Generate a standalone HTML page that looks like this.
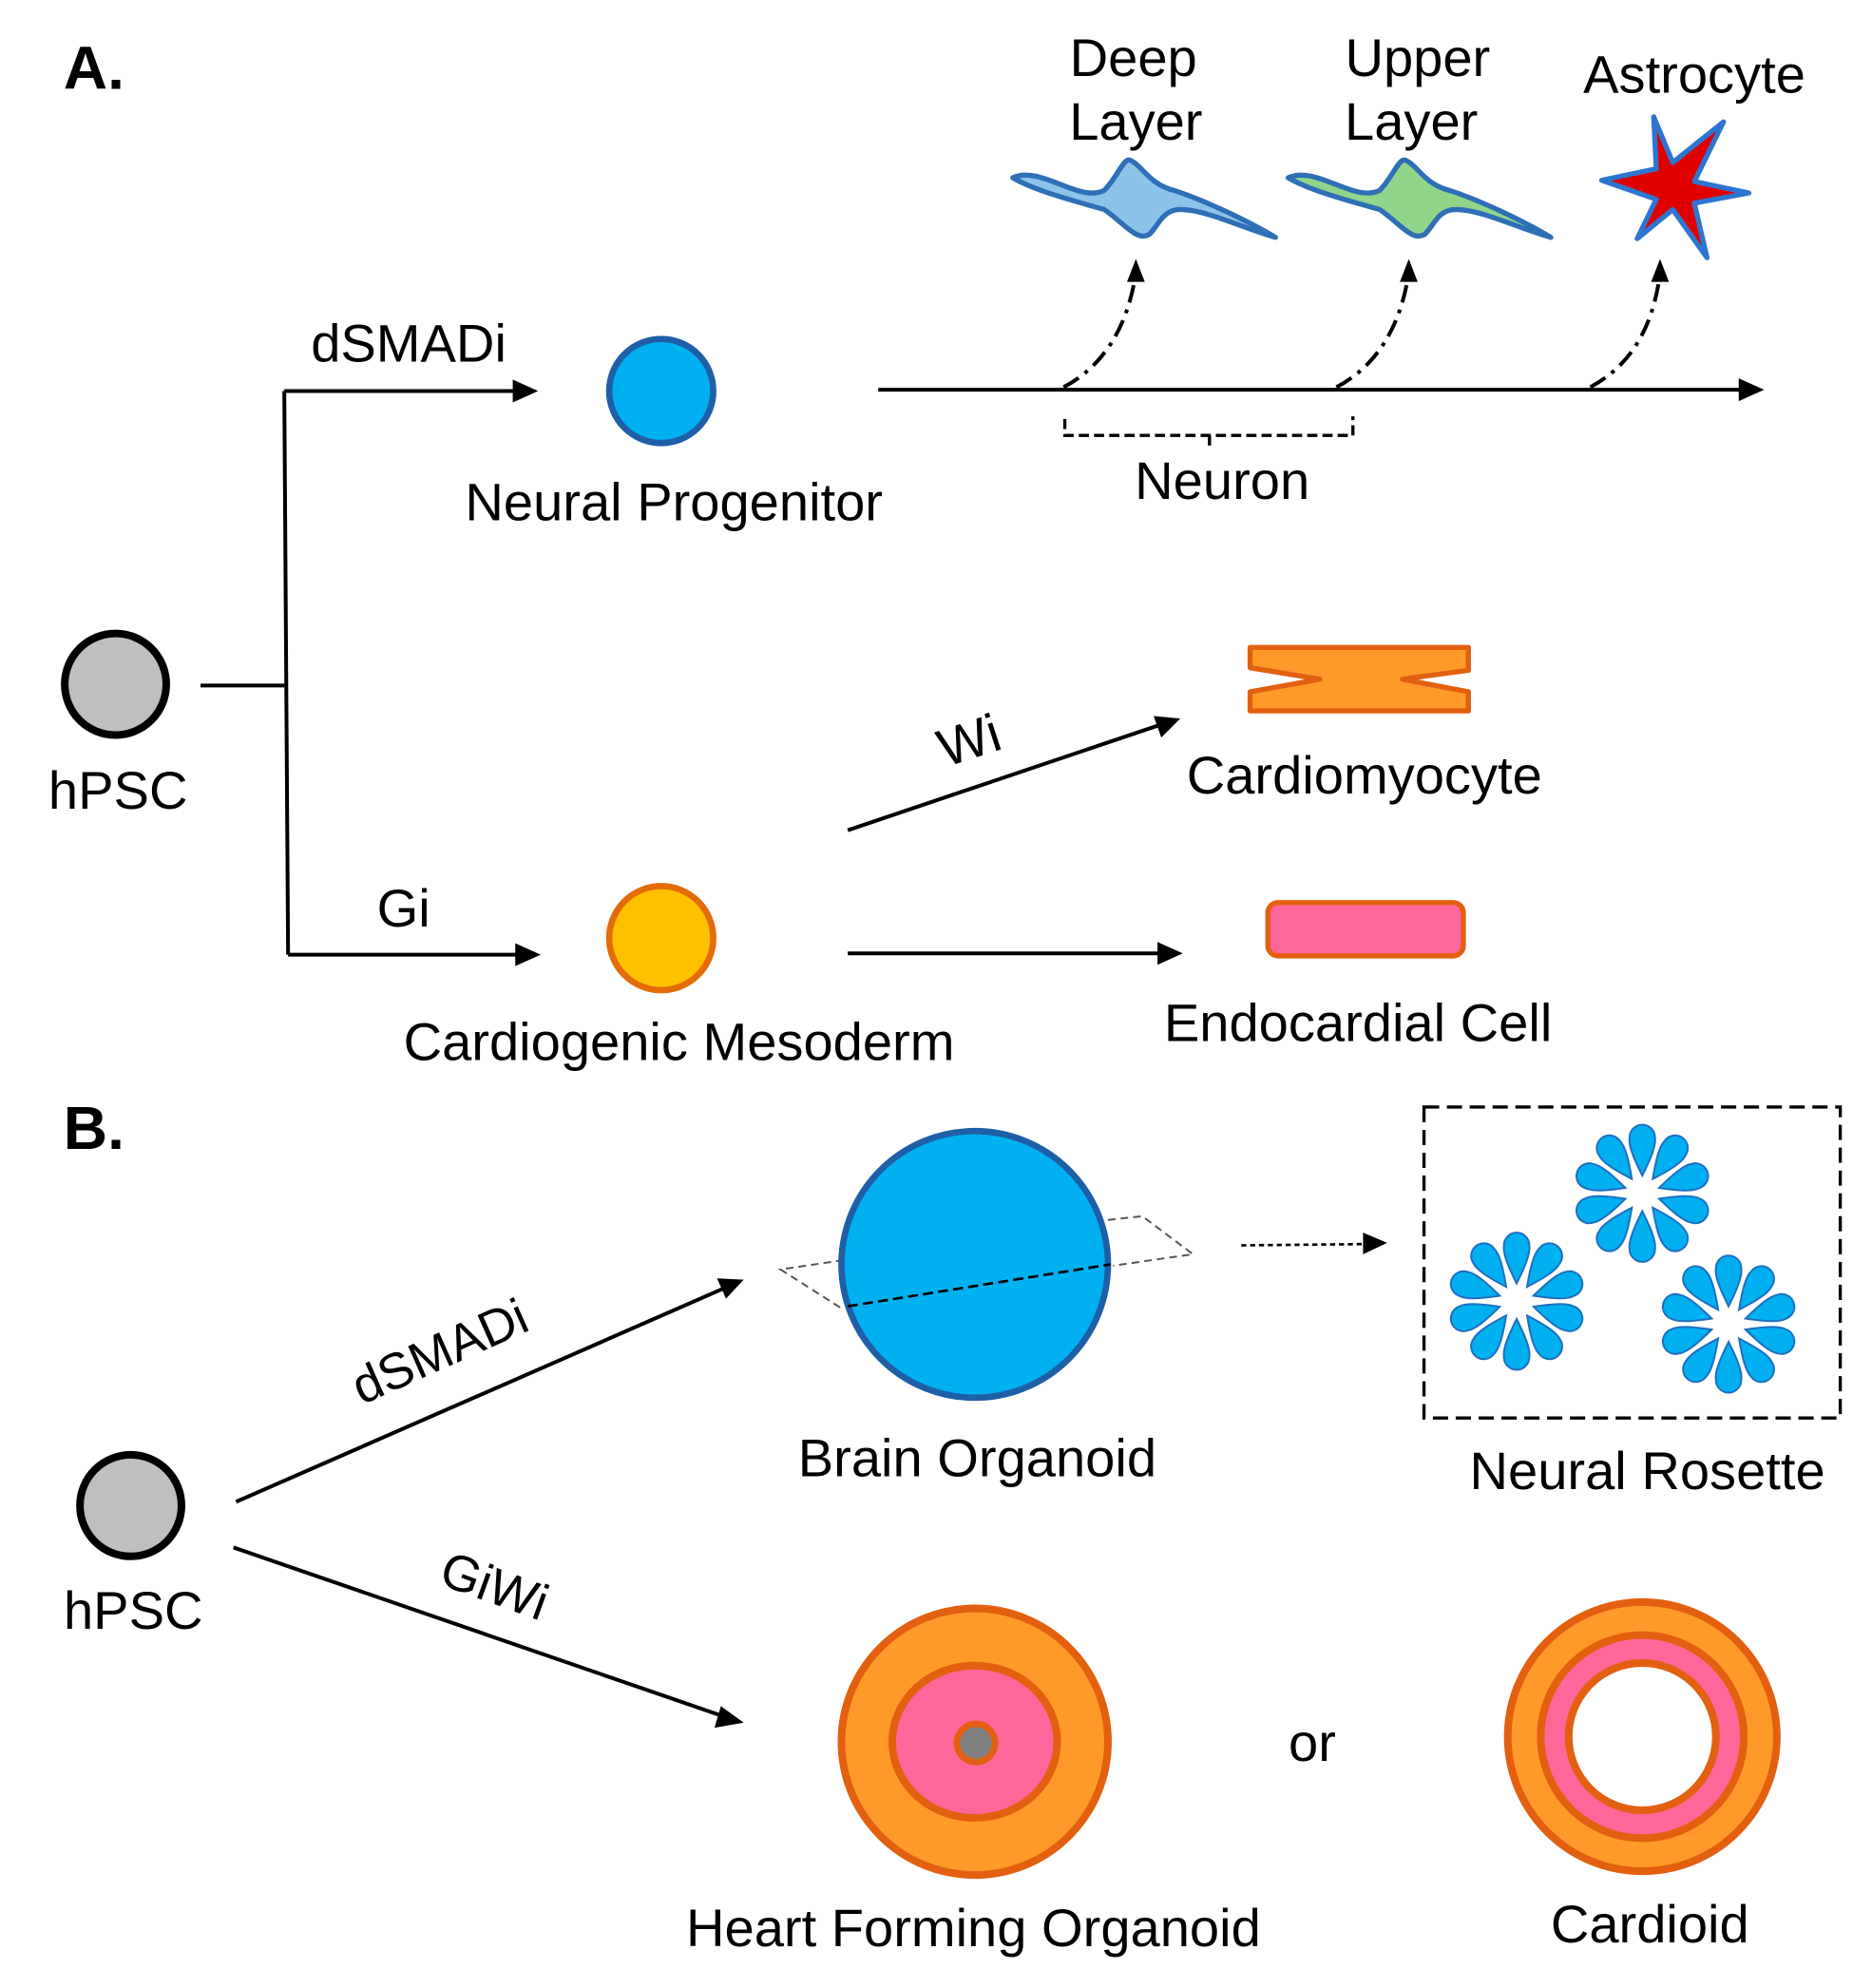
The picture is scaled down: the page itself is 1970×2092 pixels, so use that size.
<!DOCTYPE html>
<html><head><meta charset="utf-8"><style>
html,body{margin:0;padding:0;background:#fff;}
svg{display:block;}
text{font-family:"Liberation Sans",Arial,sans-serif;fill:#000;}
</style></head><body>
<svg width="1970" height="2092" viewBox="0 0 1475 1566" preserveAspectRatio="none" xmlns="http://www.w3.org/2000/svg">
<defs>
<g id="petal"><path d="M0,-14 C-7,-28 -11,-38 -10,-44 A10,10 0 0 1 10,-44 C11,-38 7,-28 0,-14 Z" fill="#00B0F0" stroke="#1F6FC0" stroke-width="1.5"/></g>
<g id="ros">
<use href="#petal"/><use href="#petal" transform="rotate(36)"/><use href="#petal" transform="rotate(72)"/><use href="#petal" transform="rotate(108)"/><use href="#petal" transform="rotate(144)"/><use href="#petal" transform="rotate(180)"/><use href="#petal" transform="rotate(216)"/><use href="#petal" transform="rotate(252)"/><use href="#petal" transform="rotate(288)"/><use href="#petal" transform="rotate(324)"/>
</g>
</defs>

<!-- A -->
<text x="50" y="70" font-size="48" font-weight="bold">A.</text>
<text x="893" y="60" font-size="42" text-anchor="middle">Deep</text>
<text x="895" y="110" font-size="42" text-anchor="middle">Layer</text>
<text x="1117" y="60" font-size="42" text-anchor="middle">Upper</text>
<text x="1112" y="110" font-size="42" text-anchor="middle">Layer</text>
<text x="1335" y="73" font-size="42" text-anchor="middle">Astrocyte</text>

<path d="M798,140 C820,130 850,160 870,150 C880,140 885,125 890,126 C900,130 905,145 925,150 C950,158 985,175 1005,187 C980,180 950,165 930,165 C915,165 912,180 905,185 C895,190 885,175 870,165 C845,158 815,150 798,140 Z" fill="#8DC3E8" stroke="#2E6FB6" stroke-width="4" stroke-linejoin="round"/>
<g transform="translate(217,0)"><path d="M798,140 C820,130 850,160 870,150 C880,140 885,125 890,126 C900,130 905,145 925,150 C950,158 985,175 1005,187 C980,180 950,165 930,165 C915,165 912,180 905,185 C895,190 885,175 870,165 C845,158 815,150 798,140 Z" fill="#92D48A" stroke="#2E6FB6" stroke-width="4" stroke-linejoin="round"/></g>
<path d="M1303,92 L1318,128 L1358,96 L1335,143 L1378,152 L1335,160 L1345,203 L1318,165 L1290,188 L1305,157 L1262,142 L1305,133 Z" fill="#E00000" stroke="#2E75D0" stroke-width="4" stroke-linejoin="round"/>

<g fill="none" stroke="#000" stroke-width="3" stroke-dasharray="14,6,3,6">
<path d="M838,305 Q885,280 895,215"/>
<path d="M1053,305 Q1100,280 1110,215"/>
<path d="M1253,305 Q1300,280 1308,215"/>
</g>
<path d="M895,204 l-7,18 l14,0 Z"/>
<path d="M1110,204 l-7,18 l14,0 Z"/>
<path d="M1308,204 l-7,18 l14,0 Z"/>

<line x1="692" y1="307" x2="1372" y2="307" stroke="#000" stroke-width="3"/>
<path d="M1390,307 L1370,298 L1370,316 Z"/>
<path d="M839,330 L839,343 L1066,343 L1066,328 M953,343 L953,355" fill="none" stroke="#000" stroke-width="2.5" stroke-dasharray="8,4"/>
<text x="963" y="393" font-size="42" text-anchor="middle">Neuron</text>

<circle cx="521" cy="308" r="41" fill="#00B0F0" stroke="#1F5FA8" stroke-width="5"/>
<text x="531" y="410" font-size="42" text-anchor="middle">Neural Progenitor</text>
<text x="322" y="285" font-size="42" text-anchor="middle">dSMADi</text>

<path d="M158,540 L224,540 M224,308 L227,752" fill="none" stroke="#000" stroke-width="3"/>
<line x1="224" y1="308" x2="408" y2="308" stroke="#000" stroke-width="3"/>
<path d="M424,308 L404,299 L404,317 Z"/>
<line x1="227" y1="752" x2="410" y2="752" stroke="#000" stroke-width="3"/>
<path d="M426,752 L406,743 L406,761 Z"/>

<circle cx="91" cy="539" r="40" fill="#BFBFBF" stroke="#000" stroke-width="6"/>
<text x="93" y="637" font-size="42" text-anchor="middle">hPSC</text>

<line x1="668" y1="654" x2="914" y2="571" stroke="#000" stroke-width="3"/>
<path d="M930,566 L909,564 L915,581 Z"/>
<text x="0" y="0" font-size="42" text-anchor="middle" transform="translate(768,597) rotate(-18)">Wi</text>

<path d="M985,510 L1157,510 L1157,528 L1105,535 L1157,545 L1157,560 L985,560 L985,545 L1040,535 L985,526 Z" fill="#FF9A2A" stroke="#E36010" stroke-width="4" stroke-linejoin="round"/>
<text x="1075" y="625" font-size="42" text-anchor="middle">Cardiomyocyte</text>

<text x="318" y="730" font-size="42" text-anchor="middle">Gi</text>
<circle cx="521" cy="739" r="41" fill="#FFC000" stroke="#E36C09" stroke-width="5"/>
<text x="535" y="835" font-size="42" text-anchor="middle">Cardiogenic Mesoderm</text>

<line x1="668" y1="751" x2="914" y2="751" stroke="#000" stroke-width="3"/>
<path d="M932,751 L912,742 L912,760 Z"/>
<rect x="999" y="711" width="154" height="42" rx="8" fill="#FF6699" stroke="#E36010" stroke-width="4"/>
<text x="1070" y="820" font-size="42" text-anchor="middle">Endocardial Cell</text>

<!-- B -->
<text x="50" y="905" font-size="48" font-weight="bold">B.</text>

<circle cx="768" cy="996" r="105" fill="#00B0F0" stroke="#1F5FA8" stroke-width="5"/>
<path d="M662,1030 L615,1000 L662,993 M873,961 L900,958 L940,988 L877,997" fill="none" stroke="#555" stroke-width="1.5" stroke-dasharray="6,4"/>
<line x1="668" y1="1029" x2="875" y2="996" stroke="#000" stroke-width="2" stroke-dasharray="8,4"/>
<text x="770" y="1163" font-size="42" text-anchor="middle">Brain Organoid</text>

<line x1="978" y1="981" x2="1076" y2="980" stroke="#000" stroke-width="2" stroke-dasharray="4,3"/>
<path d="M1093,979 L1074,971 L1074,988 Z"/>
<rect x="1122" y="872" width="328" height="245" fill="none" stroke="#000" stroke-width="2.5" stroke-dasharray="12,6"/>
<use href="#ros" transform="translate(1195,1025)"/>
<use href="#ros" transform="translate(1294,940)"/>
<use href="#ros" transform="translate(1362,1043)"/>
<text x="1298" y="1173" font-size="42" text-anchor="middle">Neural Rosette</text>

<circle cx="103" cy="1186" r="40" fill="#BFBFBF" stroke="#000" stroke-width="6"/>
<text x="105" y="1283" font-size="42" text-anchor="middle">hPSC</text>

<line x1="186" y1="1183" x2="570" y2="1015" stroke="#000" stroke-width="3"/>
<path d="M586,1008 L565,1007 L572,1023 Z"/>
<text x="0" y="0" font-size="40" text-anchor="middle" transform="translate(352,1077) rotate(-24)">dSMADi</text>
<line x1="184" y1="1219" x2="570" y2="1352" stroke="#000" stroke-width="3"/>
<path d="M586,1357 L568,1344 L563,1361 Z"/>
<text x="0" y="0" font-size="40" text-anchor="middle" transform="translate(385,1262) rotate(20)">GiWi</text>

<circle cx="768" cy="1372" r="105" fill="#FF9A2A" stroke="#E36010" stroke-width="6"/>
<ellipse cx="768" cy="1372" rx="65" ry="60" fill="#FF6699" stroke="#E36010" stroke-width="6"/>
<circle cx="769" cy="1373" r="15" fill="#808080" stroke="#E36010" stroke-width="5"/>
<text x="1034" y="1387" font-size="42" text-anchor="middle">or</text>
<text x="767" y="1533" font-size="42" text-anchor="middle">Heart Forming Organoid</text>

<circle cx="1294" cy="1368" r="106" fill="#FF9A2A" stroke="#E36010" stroke-width="6"/>
<circle cx="1294" cy="1368" r="80" fill="#FF6699" stroke="#E36010" stroke-width="6"/>
<circle cx="1294" cy="1368" r="58" fill="#fff" stroke="#E36010" stroke-width="6"/>
<text x="1300" y="1530" font-size="42" text-anchor="middle">Cardioid</text>
</svg>
</body></html>
